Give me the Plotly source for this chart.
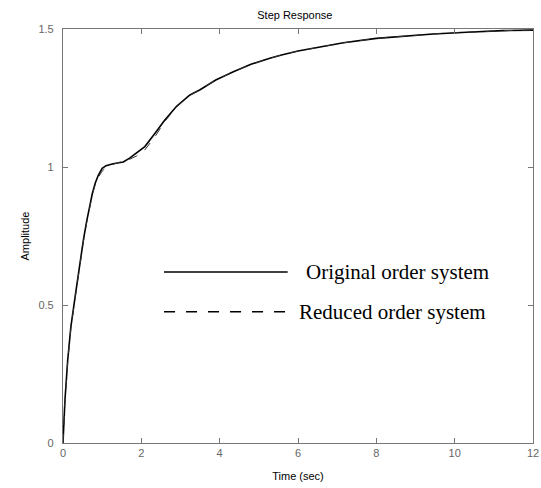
import plotly.graph_objects as go

# Original order system step response (time in sec, amplitude)
t_orig = [0.0, 0.02, 0.05, 0.12, 0.2, 0.32, 0.42, 0.52, 0.6, 0.68, 0.75, 0.82, 0.9, 1.0, 1.1, 1.28,
          1.54, 1.7, 1.88, 2.09, 2.35, 2.6, 2.9, 3.24, 3.5, 3.9, 4.35, 4.8, 5.28, 5.58, 6.0, 6.48,
          7.16, 8.0, 8.7, 9.45, 10.3, 11.24, 12.0]
y_orig = [0.0, 0.07, 0.156, 0.3, 0.42, 0.54, 0.64, 0.735, 0.8, 0.86, 0.905, 0.94, 0.97, 0.995, 1.005, 1.012,
          1.018, 1.032, 1.05, 1.074, 1.122, 1.17, 1.22, 1.261, 1.28, 1.315, 1.345, 1.372, 1.394, 1.406, 1.42, 1.432,
          1.45, 1.466, 1.475, 1.482, 1.488, 1.494, 1.496]

# Reduced order system step response
t_red = [0.0, 0.02, 0.05, 0.12, 0.2, 0.32, 0.42, 0.52, 0.6, 0.68, 0.75, 0.82, 0.9, 1.0, 1.1, 1.28,
         1.54, 1.7, 1.88, 2.09, 2.35, 2.6, 2.9, 3.24, 3.5, 3.9, 4.35, 4.8, 5.28, 5.58, 6.0, 6.48,
         7.16, 8.0, 8.7, 9.45, 10.3, 11.24, 12.0]
y_red = [0.0, 0.065, 0.15, 0.295, 0.415, 0.535, 0.635, 0.73, 0.795, 0.855, 0.9, 0.935, 0.962, 0.985, 0.998, 1.01,
         1.02, 1.028, 1.04, 1.062, 1.11, 1.165, 1.218, 1.26, 1.28, 1.315, 1.345, 1.372, 1.394, 1.406, 1.42, 1.432,
         1.45, 1.466, 1.475, 1.482, 1.488, 1.494, 1.496]

x_ticks = [0, 2, 4, 6, 8, 10, 12]
y_ticks = [0, 0.5, 1, 1.5]
y_tick_labels = ["0", "0.5", "1", "1.5"]

legend_names = ["Original order system", "Reduced order system"]
title_text = "Step Response"
x_title = "Time (sec)"
y_title = "Amplitude"

fig = go.Figure()
fig.add_trace(go.Scatter(x=t_orig, y=y_orig, mode="lines", name=legend_names[0],
                         line=dict(color="black", width=1.6)))
fig.add_trace(go.Scatter(x=t_red, y=y_red, mode="lines", name=legend_names[1],
                         line=dict(color="#333333", width=1.0, dash="dash")))

axis_common = dict(showgrid=False, zeroline=False, showline=True, linecolor="#777777", linewidth=1.2,
                   mirror="allticks", ticks="inside", ticklen=5, tickcolor="#777777", automargin=False,
                   tickfont=dict(family="Liberation Sans, Arial", size=11, color="#666666"))

fig.update_layout(
    width=541, height=488,
    margin=dict(l=63, r=8, t=29, b=45, autoexpand=False),
    paper_bgcolor="white", plot_bgcolor="white",
    showlegend=False,
    title=dict(text=title_text, x=0.545, xanchor="center", y=0.968, yanchor="middle",
               font=dict(family="Liberation Sans, Arial", size=11, color="black")),
    xaxis=dict(range=[0, 12], tickvals=x_ticks, ticktext=[str(v) for v in x_ticks],
               title=dict(text=x_title, standoff=14, font=dict(family="Liberation Sans, Arial", size=11, color="black")),
               **axis_common),
    yaxis=dict(range=[0, 1.5], tickvals=y_ticks, ticktext=y_tick_labels, ticklabelstandoff=6,
               title=dict(text=y_title, standoff=6, font=dict(family="Liberation Sans, Arial", size=11, color="black")),
               **axis_common),
)

# Custom legend drawn inside the plot
leg_y = [0.413, 0.317]
leg_x0, leg_x1 = 0.215, 0.478
fig.add_shape(type="line", xref="paper", yref="paper", x0=leg_x0, x1=leg_x1, y0=leg_y[0], y1=leg_y[0],
              line=dict(color="black", width=1.4))
fig.add_shape(type="line", xref="paper", yref="paper", x0=leg_x0, x1=leg_x1, y0=leg_y[1], y1=leg_y[1],
              line=dict(color="black", width=1.4, dash="11px,11px"))
fig.add_annotation(xref="paper", yref="paper", x=0.512, y=leg_y[0], xanchor="left", yanchor="middle",
                   text=legend_names[0], showarrow=False,
                   font=dict(family="Liberation Serif, Times New Roman", size=21, color="black"))
fig.add_annotation(xref="paper", yref="paper", x=0.497, y=leg_y[1], xanchor="left", yanchor="middle",
                   text=legend_names[1], showarrow=False,
                   font=dict(family="Liberation Serif, Times New Roman", size=21, color="black"))

fig.write_html("out.html", config={"displayModeBar": False},
               post_script="document.body.style.margin='0px';")
